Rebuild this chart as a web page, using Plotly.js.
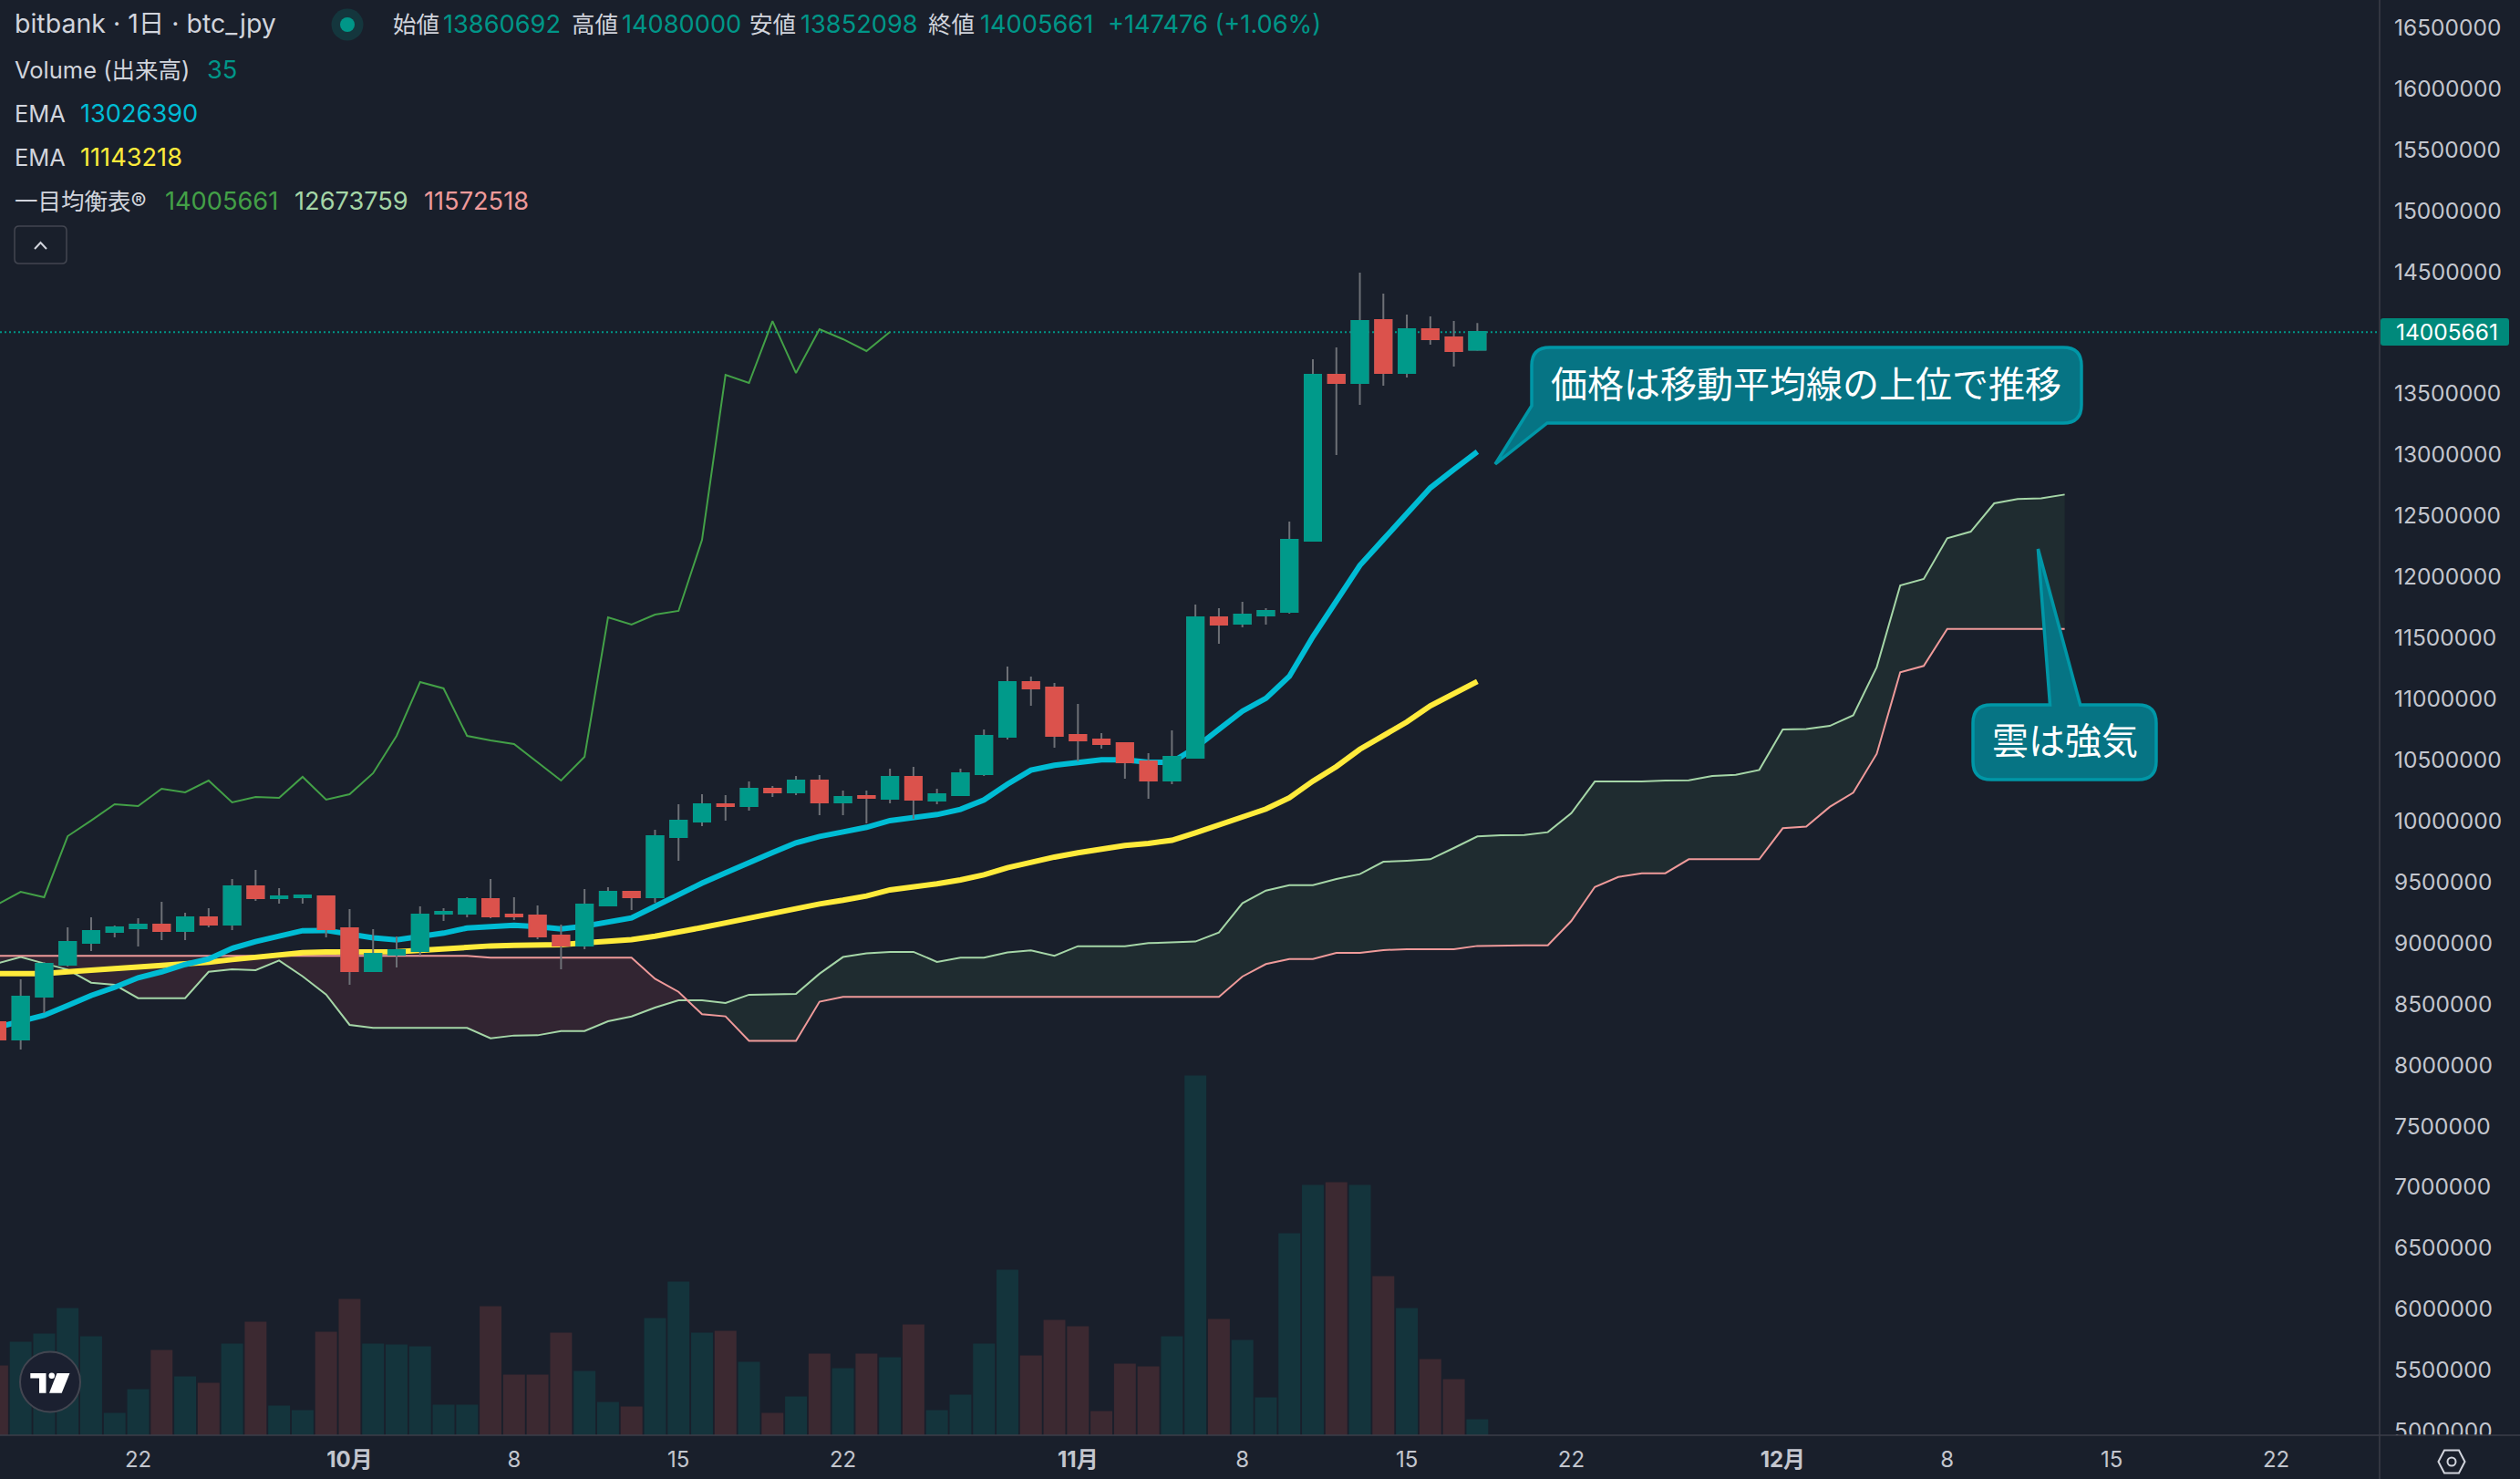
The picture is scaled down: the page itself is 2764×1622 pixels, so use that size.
<!DOCTYPE html>
<html><head><meta charset="utf-8">
<script src="https://cdn.plot.ly/plotly-3.0.1.min.js"></script>
<style>html,body{margin:0;padding:0;background:#191f2b;overflow:hidden}#c{width:2764px;height:1622px}</style>
</head><body><div id="c"></div>
<script>
// ---- data (prices in thousand yen) ----
const candleDays=['2024-09-16','2024-09-17','2024-09-18','2024-09-19','2024-09-20','2024-09-21','2024-09-22','2024-09-23','2024-09-24','2024-09-25','2024-09-26','2024-09-27','2024-09-28','2024-09-29','2024-09-30',
'2024-10-01','2024-10-02','2024-10-03','2024-10-04','2024-10-05','2024-10-06','2024-10-07','2024-10-08','2024-10-09','2024-10-10','2024-10-11','2024-10-12','2024-10-13','2024-10-14','2024-10-15','2024-10-16','2024-10-17','2024-10-18','2024-10-19','2024-10-20','2024-10-21','2024-10-22','2024-10-23','2024-10-24','2024-10-25','2024-10-26','2024-10-27','2024-10-28','2024-10-29','2024-10-30','2024-10-31',
'2024-11-01','2024-11-02','2024-11-03','2024-11-04','2024-11-05','2024-11-06','2024-11-07','2024-11-08','2024-11-09','2024-11-10','2024-11-11','2024-11-12','2024-11-13','2024-11-14','2024-11-15','2024-11-16','2024-11-17','2024-11-18'];
const futureDays=['2024-11-19','2024-11-20','2024-11-21','2024-11-22','2024-11-23','2024-11-24','2024-11-25','2024-11-26','2024-11-27','2024-11-28','2024-11-29','2024-11-30',
'2024-12-01','2024-12-02','2024-12-03','2024-12-04','2024-12-05','2024-12-06','2024-12-07','2024-12-08','2024-12-09','2024-12-10','2024-12-11','2024-12-12','2024-12-13'];
const openK=[8351,8209,8560,8822,9001,9091,9121,9150,9098,9210,9150,9464,9367,9375,9382,
9121,8769,8904,8934,9240,9240,9360,9233,9225,9061,8979,9307,9419,9375,9868,9995,10137,10122,10264,10234,10331,10152,10204,10182,10361,10167,10212,10384,10690,11138,11093,
10705,10667,10638,10488,10331,10518,11668,11616,11683,11713,12296,13655,13588,14104,13670,14029,13962,13861];
const highK=[8390,8702,8844,9128,9210,9143,9203,9337,9248,9285,9524,9599,9449,9397,9382,
9277,9113,9053,9300,9285,9375,9524,9375,9307,9150,9442,9457,9427,9927,10137,10219,10212,10324,10286,10369,10376,10249,10249,10428,10443,10264,10428,10750,11265,11183,11131,
10959,10720,10638,10555,10742,11773,11743,11795,11743,12453,13782,13880,14492,14320,14148,14133,14096,14080];
const lowK=[8180,8127,8426,8807,8934,9046,8971,9023,9023,9128,9106,9345,9322,9322,9046,
8657,8762,8799,8896,9180,9210,9203,9188,9031,8784,8949,9307,9270,9330,9674,9958,10003,10085,10197,10212,10047,10047,9980,10145,10018,10137,10204,10369,10667,10944,10600,
10488,10593,10346,10182,10301,10518,11452,11586,11609,11698,12296,12998,13409,13566,13633,13902,13723,13852];
const closeK=[8209,8560,8829,9008,9098,9128,9150,9098,9210,9150,9464,9367,9382,9390,9113,
8769,8911,8941,9233,9255,9360,9218,9218,9053,8979,9315,9419,9375,9875,10003,10137,10122,10264,10234,10331,10152,10197,10189,10361,10174,10219,10391,10697,11138,11086,10697,
10660,10630,10481,10331,10525,11668,11609,11691,11721,12303,13655,13588,14096,13670,14029,13947,13850,14006];
const volume=[153,205,223,279,217,49,101,187,129,115,201,249,65,55,227,
299,201,199,195,67,67,283,133,133,225,141,73,63,257,337,225,229,161,49,85,179,147,179,171,243,55,89,201,363,175,253,
239,53,157,151,217,789,255,209,83,443,549,555,549,349,279,167,123,35];
const emaFastK=[8309,8359,8408,8488,8570,8637,8715,8764,8824,8869,8956,9011,9061,9101,9103,
9073,9043,9026,9056,9081,9123,9136,9145,9133,9116,9138,9175,9205,9300,9399,9490,9574,9661,9741,9821,9873,9910,9948,10003,10025,10052,10095,10172,10301,10416,10456,
10481,10501,10501,10481,10481,10600,10750,10899,11004,11185,11509,11795,12094,12306,12517,12729,12879,13026];
const emaSlowK=[8750,8747,8750,8764,8777,8789,8799,8812,8827,8842,8864,8881,8904,8921,8926,
8926,8926,8929,8939,8954,8969,8976,8981,8984,8986,9001,9013,9028,9056,9086,9126,9165,9205,9245,9285,9320,9350,9385,9435,9455,9485,9517,9559,9617,9666,9704,
9739,9774,9798,9816,9841,9903,9973,10032,10097,10190,10326,10445,10587,10699,10811,10943,11048,11143];
const lagK=[9315,9419,9375,9875,10003,10137,10122,10264,10234,10331,10152,10197,10189,10361,10174,
10219,10391,10697,11138,11086,10697,10660,10630,10481,10331,10525,11668,11609,11691,11721,12303,13655,13588,14096,13670,14029,13947,13850,14006];
const spanAK=[8832,8886,8832,8782,8675,8657,8548,8548,8548,8764,8784,8777,8857,8727,8578,
8329,8304,8304,8304,8304,8304,8219,8242,8244,8279,8279,8359,8398,8471,8530,8530,8509,8576,8579,8583,8748,8885,8915,8927,8927,8845,8880,8880,8922,8940,8895,
8974,8974,8974,8999,9004,9012,9086,9326,9429,9474,9474,9524,9564,9666,9674,9686,9778,9873,9883,9885,9908,10064,10323,10323,10323,10331,10333,10368,10378,10418,
10749,10754,10779,10866,11260,11930,11982,12316,12370,12602,12637,12644,12674];
const spanBK=[8894,8894,8894,8894,8894,8894,8894,8894,8894,8894,8894,8894,8894,8894,8894,
8894,8894,8894,8894,8894,8894,8879,8879,8879,8879,8879,8879,8879,8707,8600,8416,8399,8198,8198,8198,8519,8559,8559,8559,8559,8559,8559,8559,8559,8559,8559,
8559,8559,8559,8559,8559,8559,8559,8725,8827,8869,8869,8919,8919,8942,8949,8949,8949,8976,8981,8981,8981,9180,9459,9541,9571,9571,9686,9686,9686,9686,
9940,9953,10115,10231,10550,11218,11270,11573,11573,11573,11573,11573,11573];
const cloudCrossDay='2024-10-15 09:00', cloudCrossK=8530, cloudCrossIndex=29;
const lastPrice=14005661;
const priceTicks=[5000000,5500000,6000000,6500000,7000000,7500000,8000000,8500000,9000000,9500000,10000000,10500000,11000000,11500000,12000000,12500000,13000000,13500000,14000000,14500000,15000000,15500000,16000000,16500000];
const dateTicks=['2024-09-22','2024-10-01','2024-10-08','2024-10-15','2024-10-22','2024-11-01','2024-11-08','2024-11-15','2024-11-22','2024-12-01','2024-12-08','2024-12-15','2024-12-22'];
const dateLabels=['22','<b>10月</b>','8','15','22','<b>11月</b>','8','15','22','<b>12月</b>','8','15','22'];

// ---- helpers ----
const yen=a=>a.map(v=>v*1000);
const W=2610,H=1574;
const X=p=>p/W, Y=p=>1-p/H;
const FF='Inter, "Noto Sans CJK JP", sans-serif';
const BG='#191f2b', UP='#009a8a', DOWN='#db524c', WICK='#6d7076', TXT='#d1d4dc', AX='#3b3e49';
const cloudDays=candleDays.concat(futureDays);
const lagDays=candleDays.slice(0,lagK.length);

const dir=(i)=>closeK[i]>=openK[i];
const traces=[
 {type:'bar',x:candleDays,y:volume,yaxis:'y',width:86400000*0.93,marker:{color:candleDays.map((d,i)=>dir(i)?'#14343c':'#3c2931'),line:{width:0}}},
 // cloud fills
 {type:'scatter',mode:'lines',x:cloudDays.slice(0,cloudCrossIndex+1).concat([cloudCrossDay]),y:yen(spanAK.slice(0,cloudCrossIndex+1).concat([cloudCrossK])),yaxis:'y2',line:{width:0}},
 {type:'scatter',mode:'lines',x:cloudDays.slice(0,cloudCrossIndex+1).concat([cloudCrossDay]),y:yen(spanBK.slice(0,cloudCrossIndex+1).concat([cloudCrossK])),yaxis:'y2',line:{width:0},fill:'tonexty',fillcolor:'#322532'},
 {type:'scatter',mode:'lines',x:[cloudCrossDay].concat(cloudDays.slice(cloudCrossIndex+1)),y:yen([cloudCrossK].concat(spanBK.slice(cloudCrossIndex+1))),yaxis:'y2',line:{width:0}},
 {type:'scatter',mode:'lines',x:[cloudCrossDay].concat(cloudDays.slice(cloudCrossIndex+1)),y:yen([cloudCrossK].concat(spanAK.slice(cloudCrossIndex+1))),yaxis:'y2',line:{width:0},fill:'tonexty',fillcolor:'#1f2c30'},
 // ichimoku lines
 {type:'scatter',mode:'lines',x:cloudDays,y:yen(spanAK),yaxis:'y2',line:{color:'#a5d6a7',width:2}},
 {type:'scatter',mode:'lines',x:cloudDays,y:yen(spanBK),yaxis:'y2',line:{color:'#ef9a9a',width:2}},
 {type:'scatter',mode:'lines',x:lagDays,y:yen(lagK),yaxis:'y2',line:{color:'#43a047',width:2}},
 // EMAs
 {type:'scatter',mode:'lines',x:candleDays,y:yen(emaSlowK),yaxis:'y2',line:{color:'#ffeb3b',width:6}},
 {type:'scatter',mode:'lines',x:candleDays,y:yen(emaFastK),yaxis:'y2',line:{color:'#00bcd4',width:6}},
 // candle wicks
 {type:'candlestick',x:candleDays,open:yen(openK),high:yen(highK),low:yen(lowK),close:yen(closeK),yaxis:'y3',
  increasing:{line:{color:WICK,width:2},fillcolor:WICK},decreasing:{line:{color:WICK,width:2},fillcolor:WICK}},
 // candle bodies
 {type:'candlestick',x:candleDays,open:yen(openK),high:yen(openK.map((o,i)=>Math.max(o,closeK[i]))),low:yen(openK.map((o,i)=>Math.min(o,closeK[i]))),close:yen(closeK),yaxis:'y3',
  increasing:{line:{color:UP,width:2},fillcolor:UP},decreasing:{line:{color:DOWN,width:2},fillcolor:DOWN}}
];

function rr(l,t,r,b,rad,tail){ // rounded rectangle path in px, optional tail
  const P=(x,y)=>X(x).toFixed(6)+','+Y(y).toFixed(6);
  let s='M'+P(l+rad,t);
  if(tail&&tail.side==='top') s+=' L'+P(tail.a,t)+' L'+P(tail.tx,tail.ty)+' L'+P(tail.b,t);
  s+=' L'+P(r-rad,t)+' Q'+P(r,t)+' '+P(r,t+rad)+' L'+P(r,b-rad)+' Q'+P(r,b)+' '+P(r-rad,b);
  if(tail&&tail.side==='bottomleft'){ s+=' L'+P(tail.a,b)+' L'+P(tail.tx,tail.ty)+' L'+P(l,tail.b)+' L'+P(l,t+rad)+' Q'+P(l,t)+' '+P(l+rad,t)+' Z'; return s; }
  s+=' L'+P(l+rad,b)+' Q'+P(l,b)+' '+P(l,b-rad)+' L'+P(l,t+rad)+' Q'+P(l,t)+' '+P(l+rad,t)+' Z';
  return s;
}
const pxRect=(x0,y0,x1,y1)=>({xref:'paper',yref:'paper',x0:X(x0),x1:X(x1),y0:Y(y1),y1:Y(y0)});
const pathPx=(pts,close)=>pts.map((p,i)=>(i?'L':'M')+X(p[0]).toFixed(6)+','+Y(p[1]).toFixed(6)).join(' ')+(close?' Z':'');
const CALL_FILL='#067484', CALL_LINE='#0097a7';

const shapes=[
 {type:'line',layer:'below',xref:'paper',yref:'y2',x0:0,x1:1,y0:lastPrice,y1:lastPrice,line:{color:'#009688',width:2,dash:'2px,3px'}},
 {type:'path',layer:'above',xref:'paper',yref:'paper',path:rr(1680,381,2283,464,20,{side:'bottomleft',a:1697,tx:1640,ty:509,b:445}),fillcolor:CALL_FILL,line:{color:CALL_LINE,width:3.5}},
 {type:'path',layer:'above',xref:'paper',yref:'paper',path:rr(2164,773,2365,855,20,{side:'top',a:2248.5,tx:2235.4,ty:602,b:2281.7}),fillcolor:CALL_FILL,line:{color:CALL_LINE,width:3.5}},
 Object.assign(pxRect(2611,1574,2764,1622),{type:'rect',layer:'above',fillcolor:BG,line:{width:0}}),
 Object.assign(pxRect(0,1574,2764,1574),{type:'line',layer:'above',line:{color:AX,width:1.5}}),
 Object.assign(pxRect(2610,0,2610,1622),{type:'line',layer:'above',line:{color:AX,width:1.5}}),
 {type:'path',layer:'above',xref:'paper',yref:'paper',path:rr(2611,349,2752,379,3),fillcolor:'#00897b',line:{width:0}},
 Object.assign(pxRect(363.5,9.5,398.5,44.5),{type:'circle',layer:'above',fillcolor:'rgba(0,150,136,0.2)',line:{width:0}}),
 Object.assign(pxRect(373,19,389,35),{type:'circle',layer:'above',fillcolor:'#009688',line:{width:0}}),
 {type:'path',layer:'above',xref:'paper',yref:'paper',path:rr(16,248,73,289,5),fillcolor:'rgba(0,0,0,0)',line:{color:'#434651',width:1.5}},
 {type:'path',layer:'above',xref:'paper',yref:'paper',path:pathPx([[38,273],[44.5,266],[51,273]]),line:{color:TXT,width:2}},
 Object.assign(pxRect(22,1482.5,88,1548.5),{type:'circle',layer:'above',fillcolor:'#1b2030',line:{color:'#434651',width:2}}),
 {type:'path',layer:'above',xref:'paper',yref:'paper',path:pathPx([[33.3,1506],[50.5,1506],[50.5,1527.7],[43,1527.7],[43,1511.5],[33.3,1511.5]],true),fillcolor:'#ffffff',line:{width:0}},
 Object.assign(pxRect(53.5,1505.5,60,1512),{type:'circle',layer:'above',fillcolor:'#ffffff',line:{width:0}}),
 {type:'path',layer:'above',xref:'paper',yref:'paper',path:pathPx([[62.5,1506],[76.5,1506],[67.7,1527.7],[54,1527.7]],true),fillcolor:'#ffffff',line:{width:0}},
 {type:'path',layer:'above',xref:'paper',yref:'paper',path:pathPx([[2674.5,1603],[2681,1590.5],[2697,1590.5],[2703.5,1603],[2697,1615.5],[2681,1615.5]],true),fillcolor:'rgba(0,0,0,0)',line:{color:TXT,width:2}},
 Object.assign(pxRect(2684.5,1598.5,2693.5,1607.5),{type:'circle',layer:'above',fillcolor:'rgba(0,0,0,0)',line:{color:TXT,width:2}})
];

const note=(text,x,y,size,color,extra)=>Object.assign({xref:'paper',yref:'paper',x:X(x),y:Y(y),text,showarrow:false,xanchor:'left',yanchor:'middle',borderpad:0,font:{family:FF,size,color}},extra||{});
const TEAL='#009688', LS=25.5, VS=27.2;
const annotations=[
 note('bitbank · 1日 · btc_jpy',15,26,28.5,TXT),
 note('始値',430,27,LS,TXT), note('13860692',485,27,VS,TEAL),
 note('高値',626,27,LS,TXT), note('14080000',681,27,VS,TEAL),
 note('安値',821,27,LS,TXT), note('13852098',877,27,VS,TEAL),
 note('終値',1017,27,LS,TXT), note('14005661',1074,27,VS,TEAL),
 note('+147476 (+1.06%)',1214,27,VS,TEAL),
 note('Volume (出来高)',15,76,LS,TXT), note('35',226,76,VS,TEAL),
 note('EMA',15,125,LS,TXT), note('13026390',87,125,VS,'#00bcd4'),
 note('EMA',15,172,LS,TXT), note('11143218',87,172,VS,'#ffeb3b'),
 note('一目均衡表®',15,220,LS,TXT), note('14005661',180,220,VS,'#43a047'), note('12673759',322,220,VS,'#a5d6a7'), note('11572518',464,220,VS,'#ef9a9a'),
 note('14005661',2627,364,24.5,'#ffffff'),
 note('価格は移動平均線の上位で推移',1981,421,40,'#ffffff',{xanchor:'center'}),
 note('雲は強気',2265,813,40,'#ffffff',{xanchor:'center'})
];

const priceRange=[4967000,16726000];
const layout={
 width:2764,height:1622,margin:{l:0,r:154,t:0,b:48,pad:0},
 paper_bgcolor:BG,plot_bgcolor:BG,showlegend:false,hovermode:false,dragmode:false,
 boxgap:0.3,boxgroupgap:0,
 font:{family:FF,color:TXT},
 xaxis:{type:'date',range:['2024-09-16 02:53','2024-12-26 09:40'],rangeslider:{visible:false},tickmode:'array',tickvals:dateTicks,ticktext:dateLabels,showgrid:false,zeroline:false,showline:false,ticks:'',tickangle:0,tickfont:{family:FF,size:24,color:'#c3c6ce'},ticklabelstandoff:10,fixedrange:true},
 yaxis:{range:[0,3148],visible:false,showgrid:false,zeroline:false,fixedrange:true},
 yaxis2:{overlaying:'y',side:'right',range:priceRange,tickmode:'array',tickvals:priceTicks,ticktext:priceTicks.map(String),showgrid:false,zeroline:false,showline:false,ticks:'',tickfont:{family:FF,size:24.5,color:'#c3c6ce'},ticklabelstandoff:15,fixedrange:true},
 yaxis3:{overlaying:'y',side:'right',range:priceRange,visible:false,showgrid:false,zeroline:false,fixedrange:true},
 shapes,annotations
};
Plotly.newPlot('c',traces,layout,{displayModeBar:false,staticPlot:true,responsive:false});
</script></body></html>
